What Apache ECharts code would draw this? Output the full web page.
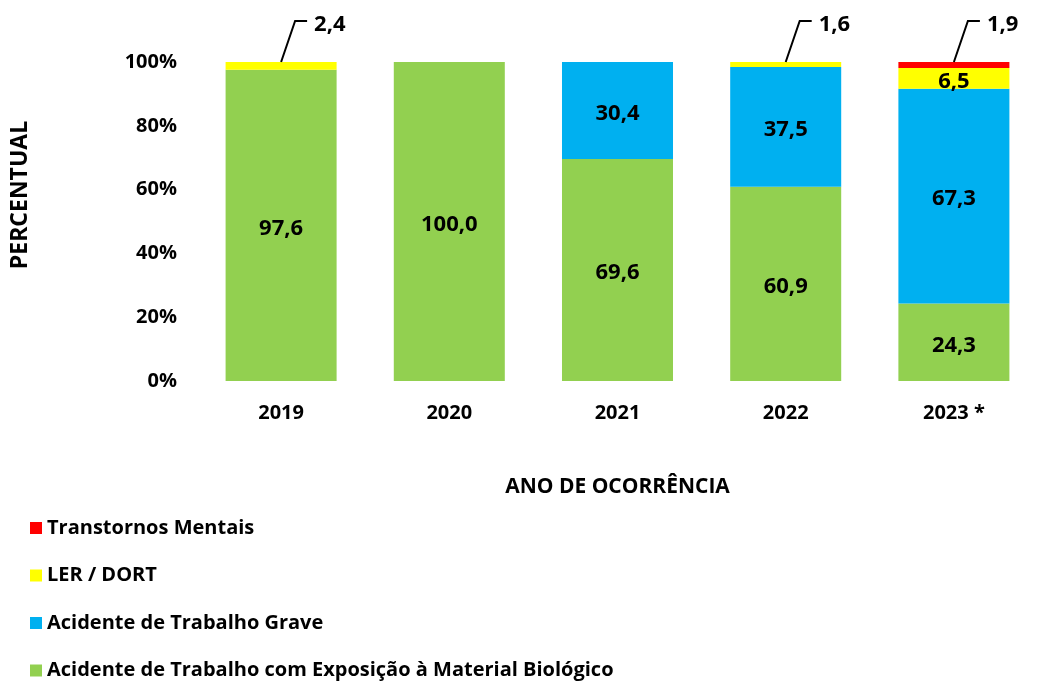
<!DOCTYPE html>
<html>
<head>
<meta charset="utf-8">
<script src="https://cdn.jsdelivr.net/npm/echarts@6/dist/echarts.min.js"></script>
<style>
  html, body { margin: 0; padding: 0; background: #fff; }
  #chart { width: 1038px; height: 681px; }
</style>
</head>
<body>
<div id="chart"></div>
<script>
// dados
var anos = ['2019', '2020', '2021', '2022', '2023 *'];
var biologico = [97.6, 100.0, 69.6, 60.9, 24.3];
var grave = [0, 0, 30.4, 37.5, 67.3];
var lerDort = [2.4, 0, 0, 1.6, 6.5];
var mentais = [0, 0, 0, 0, 1.9];
var yTicks = [0, 20, 40, 60, 80, 100];

var FONT = '"Open Sans", "DejaVu Sans", sans-serif';

function fmt(v) {
  return Number(v).toFixed(1).replace('.', ',');
}

// valores pequenos vão para fora da barra, com linha de chamada
var pilha = [biologico, grave, lerDort, mentais];
var chamadas = [];
for (var i = 0; i < anos.length; i++) {
  var acum = 0;
  for (var s = 0; s < pilha.length; s++) {
    var v = pilha[s][i];
    acum += v;
    if (v > 0 && v < 3) chamadas.push([i, acum, v]);
  }
}

function barSeries(name, data, color) {
  return {
    name: name,
    type: 'bar',
    stack: 'total',
    barWidth: '66%',
    data: data,
    itemStyle: { color: color },
    label: {
      show: true,
      position: 'inside',
      offset: [0, 3],
      color: '#000',
      fontFamily: FONT,
      fontWeight: 'bold',
      fontSize: 22,
      formatter: function (p) {
        return p.value >= 3 ? fmt(p.value) : '';
      }
    }
  };
}

var chart = echarts.init(document.getElementById('chart'));
chart.setOption({
  animation: false,
  textStyle: { fontFamily: FONT },
  grid: { left: 197, top: 62, width: 850, height: 319 },
  legend: {
    orient: 'vertical',
    left: 30,
    top: 518,
    height: 200,
    padding: 0,
    itemWidth: 12,
    itemHeight: 12,
    itemGap: 27.5,
    icon: 'rect',
    textStyle: { color: '#000', fontWeight: 'bold', fontSize: 20, fontFamily: FONT },
    data: [
      'Transtornos Mentais',
      'LER / DORT',
      'Acidente de Trabalho Grave',
      'Acidente de Trabalho com Exposição à Material Biológico'
    ]
  },
  graphic: [{
    type: 'text',
    x: 20,
    y: 195,
    rotation: Math.PI / 2,
    style: {
      text: 'PERCENTUAL',
      fill: '#000',
      font: 'bold 23px ' + FONT,
      align: 'center',
      verticalAlign: 'middle'
    }
  }],
  xAxis: {
    type: 'category',
    data: anos,
    axisLine: { show: false },
    axisTick: { show: false },
    axisLabel: { color: '#000', fontWeight: 'bold', fontSize: 20, margin: 22 },
    name: 'ANO DE OCORRÊNCIA',
    nameLocation: 'middle',
    nameGap: 96,
    nameTextStyle: { color: '#000', fontWeight: 'bold', fontSize: 21 }
  },
  yAxis: {
    type: 'value',
    min: yTicks[0],
    max: yTicks[yTicks.length - 1],
    interval: yTicks[1] - yTicks[0],
    splitLine: { show: false },
    axisLine: { show: false },
    axisTick: { show: false },
    axisLabel: { color: '#000', fontWeight: 'bold', fontSize: 20, margin: 20, formatter: '{value}%' }
  },
  series: [
    barSeries('Acidente de Trabalho com Exposição à Material Biológico', biologico, '#92D050'),
    barSeries('Acidente de Trabalho Grave', grave, '#00B0F0'),
    barSeries('LER / DORT', lerDort, '#FFFF00'),
    barSeries('Transtornos Mentais', mentais, '#FF0000'),
    {
      type: 'custom',
      name: 'chamadas',
      data: chamadas,
      encode: { x: 0, y: 1 },
      silent: true,
      z: 5,
      renderItem: function (params, api) {
        var p = api.coord([api.value(0), api.value(1)]);
        var x = p[0], y = p[1];
        return {
          type: 'group',
          children: [{
            type: 'polyline',
            shape: { points: [[x, y], [x + 14, y - 41], [x + 26, y - 41]] },
            style: { stroke: '#000', lineWidth: 2, fill: null }
          }, {
            type: 'text',
            x: x + 33,
            y: y - 37,
            style: {
              text: fmt(api.value(2)),
              fill: '#000',
              font: 'bold 22px ' + FONT,
              align: 'left',
              verticalAlign: 'middle'
            }
          }]
        };
      }
    }
  ]
});
</script>
</body>
</html>
